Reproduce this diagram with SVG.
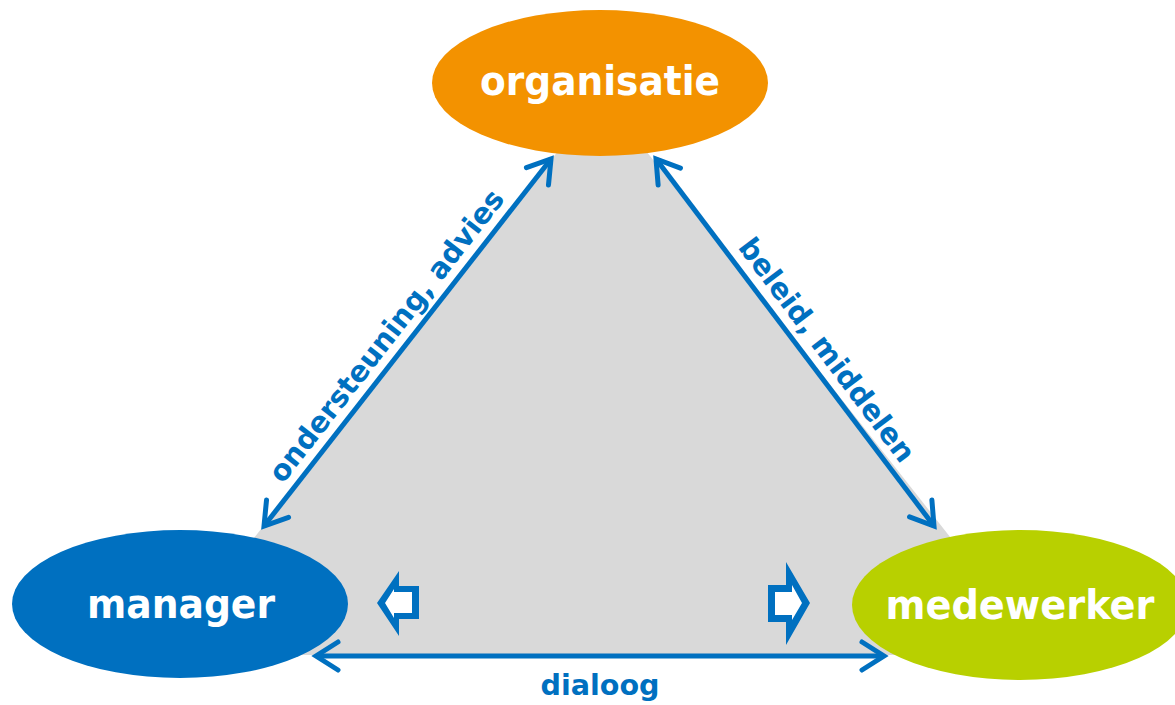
<svg xmlns="http://www.w3.org/2000/svg" width="1175" height="705" viewBox="0 0 1175 705">
  <style>
    .node-label { font-family: "DejaVu Sans", "Liberation Sans", sans-serif; font-weight: bold; font-size: 40px; fill: #ffffff; text-anchor: middle; }
    .edge-label { font-family: "DejaVu Sans", "Liberation Sans", sans-serif; font-weight: bold; font-size: 29px; fill: #0070C0; text-anchor: middle; }
    .edge { stroke: #0070C0; stroke-width: 5; fill: none; marker-start: url(#chevron); marker-end: url(#chevron); }
    .block-outer { fill: #0070C0; }
    .block-inner { fill: #ffffff; }
  </style>
  <defs>
    <marker id="chevron" markerUnits="userSpaceOnUse" orient="auto-start-reverse" refX="0" refY="0" markerWidth="40" markerHeight="40" overflow="visible">
      <path d="M-22,-14 L0,0 L-22,14" fill="none" stroke="#0070C0" stroke-width="5" stroke-linecap="round" stroke-linejoin="miter"/>
    </marker>
  </defs>

  <rect width="1175" height="705" fill="#ffffff"/>

  <!-- grey background triangle -->
  <polygon id="backdrop" points="602,95 162,655 1043,655" fill="#D9D9D9"/>

  <g id="node-organisatie">
    <ellipse cx="600" cy="83" rx="168" ry="73" fill="#F39200"/>
    <text class="node-label" x="600" y="95" textLength="240" lengthAdjust="spacingAndGlyphs">organisatie</text>
  </g>

  <g id="node-manager">
    <ellipse cx="180" cy="604" rx="168" ry="74" fill="#0070C0"/>
    <text class="node-label" x="181" y="618" textLength="188" lengthAdjust="spacingAndGlyphs">manager</text>
  </g>

  <g id="node-medewerker">
    <ellipse cx="1020" cy="605" rx="168" ry="75" fill="#B8D000"/>
    <text class="node-label" x="1020" y="619" textLength="269" lengthAdjust="spacingAndGlyphs">medewerker</text>
  </g>

  <g id="connectors">
    <line class="edge" x1="264" y1="526" x2="551" y2="159"/>
    <line class="edge" x1="656" y1="159" x2="934" y2="526"/>
    <line class="edge" x1="316" y1="656" x2="884" y2="656"/>
  </g>

  <g id="edge-labels">
    <text class="edge-label" transform="translate(402,348) rotate(-52)" x="0" y="-10" textLength="362" lengthAdjust="spacingAndGlyphs">ondersteuning, advies</text>
    <text class="edge-label" transform="translate(811,362) rotate(53)" x="0" y="-10" textLength="272" lengthAdjust="spacingAndGlyphs">beleid, middelen</text>
    <text class="edge-label" x="600" y="695" textLength="119" lengthAdjust="spacingAndGlyphs">dialoog</text>
  </g>

  <!-- hollow block arrows -->
  <g id="block-arrow-left">
    <polygon class="block-outer" points="377,603 399,571 399,586 419,586 419,619 399,619 399,636"/>
    <polygon class="block-inner" points="385,603 394,589 394,592 412,592 412,613 394,613 394,618"/>
  </g>
  <g id="block-arrow-right">
    <polygon class="block-outer" points="768,585 786,585 786,562 810,603 786,645 786,622 768,622"/>
    <polygon class="block-inner" points="775,592 792,592 792,585 802,603 792,620 792,615 775,615"/>
  </g>
</svg>
